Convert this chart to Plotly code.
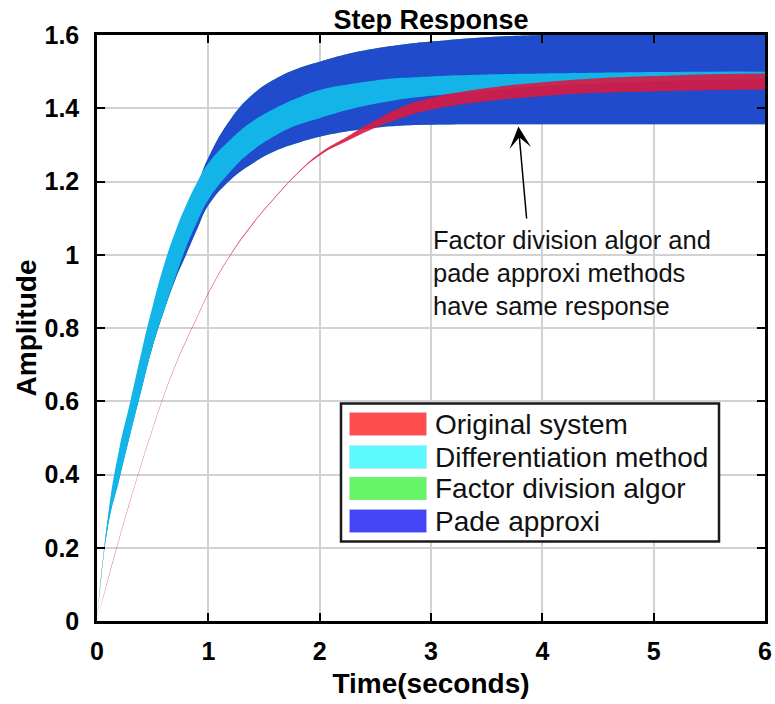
import plotly.graph_objects as go

# ---- data -------------------------------------------------------------
time_s = [0, 0.1, 0.2, 0.3, 0.4, 0.5, 0.6, 0.7, 0.8, 0.9, 1.0, 1.2, 1.4, 1.6,
          1.8, 2.0, 2.25, 2.5, 2.75, 3.0, 3.5, 4.0, 4.5, 5.0, 5.5, 6.0]

# Pade approximation: envelope of the step responses
pade_hi = [0, 0.28, 0.46, 0.59, 0.72, 0.84, 0.95, 1.045, 1.125, 1.19, 1.265, 1.37,
           1.438, 1.48, 1.508, 1.527, 1.548, 1.563, 1.574, 1.582, 1.594, 1.60,
           1.604, 1.606, 1.607, 1.608]
pade_lo = [0, 0.265, 0.39, 0.515, 0.635, 0.75, 0.845, 0.93, 1.0, 1.07, 1.135,
           1.205, 1.25, 1.283, 1.305, 1.322, 1.337, 1.347, 1.353, 1.355, 1.356,
           1.356, 1.356, 1.356, 1.356, 1.356]

# Factor division algorithm gives the same response as the Pade approximation
factor_hi = list(pade_hi)
factor_lo = list(pade_lo)

# Differentiation method
diff_hi = [0, 0.29, 0.47, 0.60, 0.735, 0.86, 0.97, 1.06, 1.135, 1.198, 1.25,
           1.315, 1.365, 1.40, 1.428, 1.45, 1.465, 1.476, 1.483, 1.487, 1.492,
           1.495, 1.497, 1.499, 1.5, 1.5]
diff_lo = [0, 0.26, 0.385, 0.51, 0.63, 0.75, 0.845, 0.935, 1.02, 1.09, 1.15,
           1.228, 1.285, 1.325, 1.354, 1.373, 1.395, 1.412, 1.425, 1.434, 1.448,
           1.46, 1.467, 1.473, 1.477, 1.48]

# Original system
orig_hi = [0, 0.1165, 0.2265, 0.3315, 0.4315, 0.5265, 0.6165, 0.6965, 0.7665,
           0.8315, 0.8965, 1.0015, 1.0865, 1.1585, 1.2235, 1.277, 1.323, 1.367,
           1.405, 1.428, 1.455, 1.471, 1.482, 1.488, 1.493, 1.495]
orig_lo = [0, 0.1135, 0.2235, 0.3285, 0.4285, 0.5235, 0.6135, 0.6935, 0.7635,
           0.8285, 0.8935, 0.9985, 1.0835, 1.1555, 1.2205, 1.271, 1.311, 1.347,
           1.375, 1.396, 1.419, 1.433, 1.442, 1.446, 1.449, 1.451]

x_ticks = [0, 1, 2, 3, 4, 5, 6]
y_ticks = [0, 0.2, 0.4, 0.6, 0.8, 1.0, 1.2, 1.4, 1.6]
y_tick_text = ["0", "0.2", "0.4", "0.6", "0.8", "1", "1.2", "1.4", "1.6"]

legend_names = ["Original system", "Differentiation method",
                "Factor division algor", "Pade approxi"]
legend_colors = ["#ff4d4d", "#5ef8ff", "#66f566", "#4545f8"]

# ---- figure -----------------------------------------------------------
W, H = 775, 704
ML, MR, MT, MB = 97, 10, 35, 83
PW, PH = W - ML - MR, H - MT - MB

FONT = "Liberation Sans, Arial, Helvetica, sans-serif"

fig = go.Figure()


def add_band(lo, hi, color, name):
    fig.add_trace(go.Scatter(x=time_s, y=lo, mode="lines",
                             line=dict(width=0, shape="spline", smoothing=1.3,
                                       color=color),
                             hoverinfo="skip", showlegend=False))
    fig.add_trace(go.Scatter(x=time_s, y=hi, mode="lines", name=name,
                             line=dict(width=0, shape="spline", smoothing=1.3,
                                       color=color),
                             fill="tonexty", fillcolor=color,
                             showlegend=False))


add_band(factor_lo, factor_hi, "#3cc83c", legend_names[2])
add_band(pade_lo, pade_hi, "#1f4bcc", legend_names[3])
add_band(diff_lo, diff_hi, "#13b5e8", legend_names[1])
add_band(orig_lo, orig_hi, "rgba(215,25,65,0.9)", legend_names[0])


def px_x(px):
    return (px - ML) / PW


def px_y(py):
    return (H - MB - py) / PH


# legend box drawn in paper space
shapes = [dict(type="rect", xref="paper", yref="paper",
               x0=px_x(341), x1=px_x(719), y0=px_y(541.5), y1=px_y(403.5),
               line=dict(color="#1a1a1a", width=2.5), fillcolor="white",
               layer="above")]
annotations = []
row_tops = [412.5, 445.5, 477, 509.5]
for name, col, top in zip(legend_names, legend_colors, row_tops):
    shapes.append(dict(type="rect", xref="paper", yref="paper",
                       x0=px_x(349.5), x1=px_x(426.5),
                       y0=px_y(top + 23), y1=px_y(top),
                       line=dict(color="rgba(200,200,255,0.6)", width=0.5),
                       fillcolor=col, layer="above"))
    annotations.append(dict(text=name, xref="paper", yref="paper",
                            x=px_x(433), y=px_y(top + 11.5),
                            xanchor="left", yanchor="middle", showarrow=False,
                            font=dict(size=28, family=FONT, color="#111")))

# note and arrow
annotations.append(dict(text="Factor division algor and<br>pade approxi methods<br>have same response",
                        xref="x", yref="y", x=3.0, y=0.951, xanchor="left",
                        yanchor="middle", align="left", showarrow=False,
                        font=dict(size=25.5, family=FONT, color="#111")))
annotations.append(dict(text="", xref="x", yref="y", x=3.785, y=1.35,
                        axref="x", ayref="y", ax=3.86, ay=1.095,
                        showarrow=True, arrowhead=3, arrowsize=2.4,
                        arrowwidth=1.5, arrowcolor="black"))

fig.update_layout(
    width=W, height=H,
    margin=dict(l=ML, r=MR, t=MT, b=MB),
    paper_bgcolor="white", plot_bgcolor="white",
    font=dict(family=FONT, color="black"),
    title=dict(text="<b>Step Response</b>", x=0.5, xref="paper", xanchor="center",
               y=1 - 20 / H, yref="container", yanchor="middle",
               font=dict(size=27, family=FONT, color="black")),
    showlegend=False,
    shapes=shapes,
    annotations=annotations,
)

axis_common = dict(ticks="inside", ticklen=8, tickwidth=2, tickcolor="black",
                   showline=True, linewidth=2.5, linecolor="black",
                   mirror="ticks", showgrid=True, gridcolor="#d2d2d2",
                   gridwidth=2, zeroline=False, automargin=False)

fig.update_xaxes(range=[0, 6], tickvals=x_ticks,
                 tickfont=dict(size=25, family=FONT, weight="bold"),
                 ticklabelstandoff=6,
                 title=dict(text="<b>Time(seconds)</b>",
                            font=dict(size=28, family=FONT), standoff=10),
                 **axis_common)
fig.update_yaxes(range=[0, 1.6], tickvals=y_ticks, ticktext=y_tick_text,
                 tickfont=dict(size=25, family=FONT, weight="bold"),
                 ticklabelstandoff=10,
                 title=dict(text="<b>Amplitude</b>",
                            font=dict(size=28, family=FONT), standoff=0),
                 **axis_common)

fig.write_html("out.html")
